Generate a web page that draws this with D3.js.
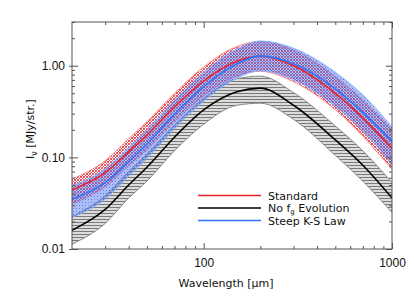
<!DOCTYPE html>
<html>
<head>
<meta charset="utf-8">
<script src="https://cdn.jsdelivr.net/npm/d3@7"></script>
<style>
  body { margin: 0; background: #fff; }
  svg { font-family: "DejaVu Sans", sans-serif; }
</style>
</head>
<body>
<svg id="chart"></svg>
<script>
// Wavelength grid (micron) and the three model spectra (MJy/str.)
const wavelength = [20, 30, 40, 50, 70, 100, 150, 200, 300, 500, 700, 1000];

const standardMid = [0.044, 0.068, 0.115, 0.175, 0.355, 0.68, 1.12, 1.27, 1.00, 0.50, 0.27, 0.125];
const standardHi  = [0.058, 0.092, 0.160, 0.245, 0.50, 0.97, 1.62, 1.84, 1.48, 0.76, 0.42, 0.200];
const standardLo  = [0.031, 0.048, 0.081, 0.122, 0.245, 0.47, 0.77, 0.87, 0.67, 0.33, 0.17, 0.074];

const noEvoMid = [0.016, 0.027, 0.050, 0.078, 0.166, 0.33, 0.52, 0.57, 0.37, 0.155, 0.082, 0.036];
const noEvoHi  = [0.0225, 0.038, 0.070, 0.108, 0.225, 0.44, 0.72, 0.77, 0.51, 0.22, 0.118, 0.053];
const noEvoLo  = [0.0113, 0.019, 0.036, 0.055, 0.118, 0.23, 0.37, 0.39, 0.26, 0.105, 0.055, 0.025];

const steepMid = [0.035, 0.053, 0.090, 0.140, 0.295, 0.59, 1.05, 1.28, 1.05, 0.56, 0.31, 0.150];
const steepHi  = [0.049, 0.075, 0.128, 0.200, 0.42, 0.85, 1.52, 1.86, 1.55, 0.85, 0.48, 0.215];
const steepLo  = [0.022, 0.035, 0.062, 0.097, 0.205, 0.41, 0.73, 0.88, 0.70, 0.36, 0.195, 0.083];

// Axis ticks
const xMajor = [100, 1000];
const xMinor = [30, 40, 50, 60, 70, 80, 90, 200, 300, 400, 500, 600, 700, 800, 900];
const yMajor = [0.01, 0.1, 1];
const yMajorLabels = ["0.01", "0.10", "1.00"];
const yMinor = [0.02, 0.03, 0.04, 0.05, 0.06, 0.07, 0.08, 0.09,
                0.2, 0.3, 0.4, 0.5, 0.6, 0.7, 0.8, 0.9, 2, 3];

const width = 414;
const height = 296;
const margin = { left: 72, right: 22, top: 22, bottom: 47 };

const svg = d3.select("#chart")
    .attr("width", width)
    .attr("height", height);

const x = d3.scaleLog().domain([20, 1000]).range([margin.left, width - margin.right]);
const y = d3.scaleLog().domain([0.01, 3]).range([height - margin.bottom, margin.top]);

const defs = svg.append("defs");

defs.append("clipPath").attr("id", "plot-clip")
    .append("rect")
    .attr("x", x.range()[0]).attr("y", y.range()[1])
    .attr("width", x.range()[1] - x.range()[0])
    .attr("height", y.range()[0] - y.range()[1]);

// cross hatch patterns (red and blue interleave to give the purple mesh)
function crossHatch(id, color, shift) {
    const p = defs.append("pattern")
        .attr("id", id)
        .attr("patternUnits", "userSpaceOnUse")
        .attr("width", 3).attr("height", 3)
        .attr("patternTransform", `translate(${shift},${shift})`);
    p.append("path")
        .attr("d", "M0,0L3,3M3,0L0,3M-1,2L1,4M2,-1L4,1M-1,1L1,-1M2,4L4,2")
        .attr("stroke", color)
        .attr("stroke-width", 0.9)
        .attr("fill", "none");
}
crossHatch("hatch-red", "#e8404a", 0);
crossHatch("hatch-blue", "#4a72f0", 1.5);

// horizontal lines for the black band
const hp = defs.append("pattern")
    .attr("id", "hatch-gray")
    .attr("patternUnits", "userSpaceOnUse")
    .attr("width", 4).attr("height", 3);
hp.append("rect").attr("width", 4).attr("height", 3).attr("fill", "#dcdcdc");
hp.append("rect").attr("y", 0).attr("width", 4).attr("height", 1)
    .attr("fill", "#7a7a7a")
    .attr("shape-rendering", "crispEdges");

const series = [
    { name: "Standard", color: "#e8232c", edge: "#ff8a8a", fill: "url(#hatch-red)", mid: standardMid, lo: standardLo, hi: standardHi },
    { name: "No f_g Evolution", color: "#000000", edge: "#888888", fill: "url(#hatch-gray)", mid: noEvoMid, lo: noEvoLo, hi: noEvoHi },
    { name: "Steep K-S Law", color: "#2f74ff", edge: "#8ab4ff", fill: "url(#hatch-blue)", mid: steepMid, lo: steepLo, hi: steepHi }
];

const area = d3.area()
    .x((d, i) => x(wavelength[i]))
    .curve(d3.curveMonotoneX);
const line = d3.line()
    .x((d, i) => x(wavelength[i]))
    .y(d => y(d))
    .curve(d3.curveMonotoneX);

const plot = svg.append("g").attr("clip-path", "url(#plot-clip)");

// bands first: black, then red, then blue
[series[1], series[0], series[2]].forEach(s => {
    plot.append("path")
        .datum(s.lo)
        .attr("d", area.y0(d => y(d)).y1((d, i) => y(s.hi[i])))
        .attr("fill", s.fill)
        .attr("stroke", "none");
    [s.lo, s.hi].forEach(edge => {
        plot.append("path")
            .datum(edge)
            .attr("d", line)
            .attr("fill", "none")
            .attr("stroke", s.edge)
            .attr("stroke-width", 1);
    });
});

// centre lines
[series[1], series[0], series[2]].forEach(s => {
    plot.append("path")
        .datum(s.mid)
        .attr("d", line)
        .attr("fill", "none")
        .attr("stroke", s.color)
        .attr("stroke-width", 1.6);
});

// frame and ticks (inward, on all four sides)
const axisColor = "#555";
const x0 = x.range()[0], x1 = x.range()[1];
const yb = y.range()[0], yt = y.range()[1];

function styleAxis(g) {
    g.select(".domain").remove();
    g.selectAll("line").attr("stroke", axisColor);
    g.selectAll("text").attr("fill", "#111").attr("font-size", 12);
}

svg.append("g").attr("transform", `translate(0,${yb})`)
    .call(d3.axisBottom(x).tickValues(xMajor).tickSize(-6).tickPadding(9).tickFormat(d3.format("d")))
    .call(styleAxis);
svg.append("g").attr("transform", `translate(0,${yb})`)
    .call(d3.axisBottom(x).tickValues(xMinor).tickSize(-3).tickFormat(""))
    .call(styleAxis);
svg.append("g").attr("transform", `translate(0,${yt})`)
    .call(d3.axisTop(x).tickValues(xMajor).tickSize(-6).tickFormat(""))
    .call(styleAxis);
svg.append("g").attr("transform", `translate(0,${yt})`)
    .call(d3.axisTop(x).tickValues(xMinor).tickSize(-3).tickFormat(""))
    .call(styleAxis);

svg.append("g").attr("transform", `translate(${x0},0)`)
    .call(d3.axisLeft(y).tickValues(yMajor).tickSize(-6).tickPadding(7)
        .tickFormat((d, i) => yMajorLabels[i]))
    .call(styleAxis)
    .selectAll(".tick line").attr("x1", -3);
svg.append("g").attr("transform", `translate(${x0},0)`)
    .call(d3.axisLeft(y).tickValues(yMinor).tickSize(-3).tickFormat(""))
    .call(styleAxis);
svg.append("g").attr("transform", `translate(${x1},0)`)
    .call(d3.axisRight(y).tickValues(yMajor).tickSize(-6).tickFormat(""))
    .call(styleAxis);
svg.append("g").attr("transform", `translate(${x1},0)`)
    .call(d3.axisRight(y).tickValues(yMinor).tickSize(-3).tickFormat(""))
    .call(styleAxis);

svg.append("rect")
    .attr("x", x0).attr("y", yt)
    .attr("width", x1 - x0).attr("height", yb - yt)
    .attr("fill", "none")
    .attr("stroke", axisColor)
    .attr("stroke-width", 1);

// axis titles
svg.append("text")
    .attr("x", 226).attr("y", 287)
    .attr("text-anchor", "middle")
    .attr("font-size", 11)
    .attr("fill", "#111")
    .text("Wavelength [\u03bcm]");

const yTitle = svg.append("text")
    .attr("transform", "translate(34,129) rotate(-90)")
    .attr("text-anchor", "middle")
    .attr("font-size", 11)
    .attr("fill", "#111");
yTitle.append("tspan").text("I");
yTitle.append("tspan").attr("font-size", 8).attr("dy", 3).text("\u03bd");
yTitle.append("tspan").attr("dy", -3).text(" [MJy/str.]");

// legend
const legend = svg.append("g");
const legendY = [195.5, 208, 220.5];
series.forEach((s, i) => {
    legend.append("line")
        .attr("x1", 198).attr("x2", 261)
        .attr("y1", legendY[i]).attr("y2", legendY[i])
        .attr("stroke", s.color)
        .attr("stroke-width", 1.6);
    const t = legend.append("text")
        .attr("x", 268).attr("y", legendY[i] + 4)
        .attr("font-size", 11)
        .attr("fill", "#111");
    if (s.name.includes("_")) {
        const [pre, rest] = s.name.split("_");
        t.append("tspan").text(pre);
        t.append("tspan").attr("font-size", 7).attr("dy", 2).text(rest[0]);
        t.append("tspan").attr("dy", -2).text(rest.slice(1));
    } else {
        t.text(s.name);
    }
});
</script>
</body>
</html>
